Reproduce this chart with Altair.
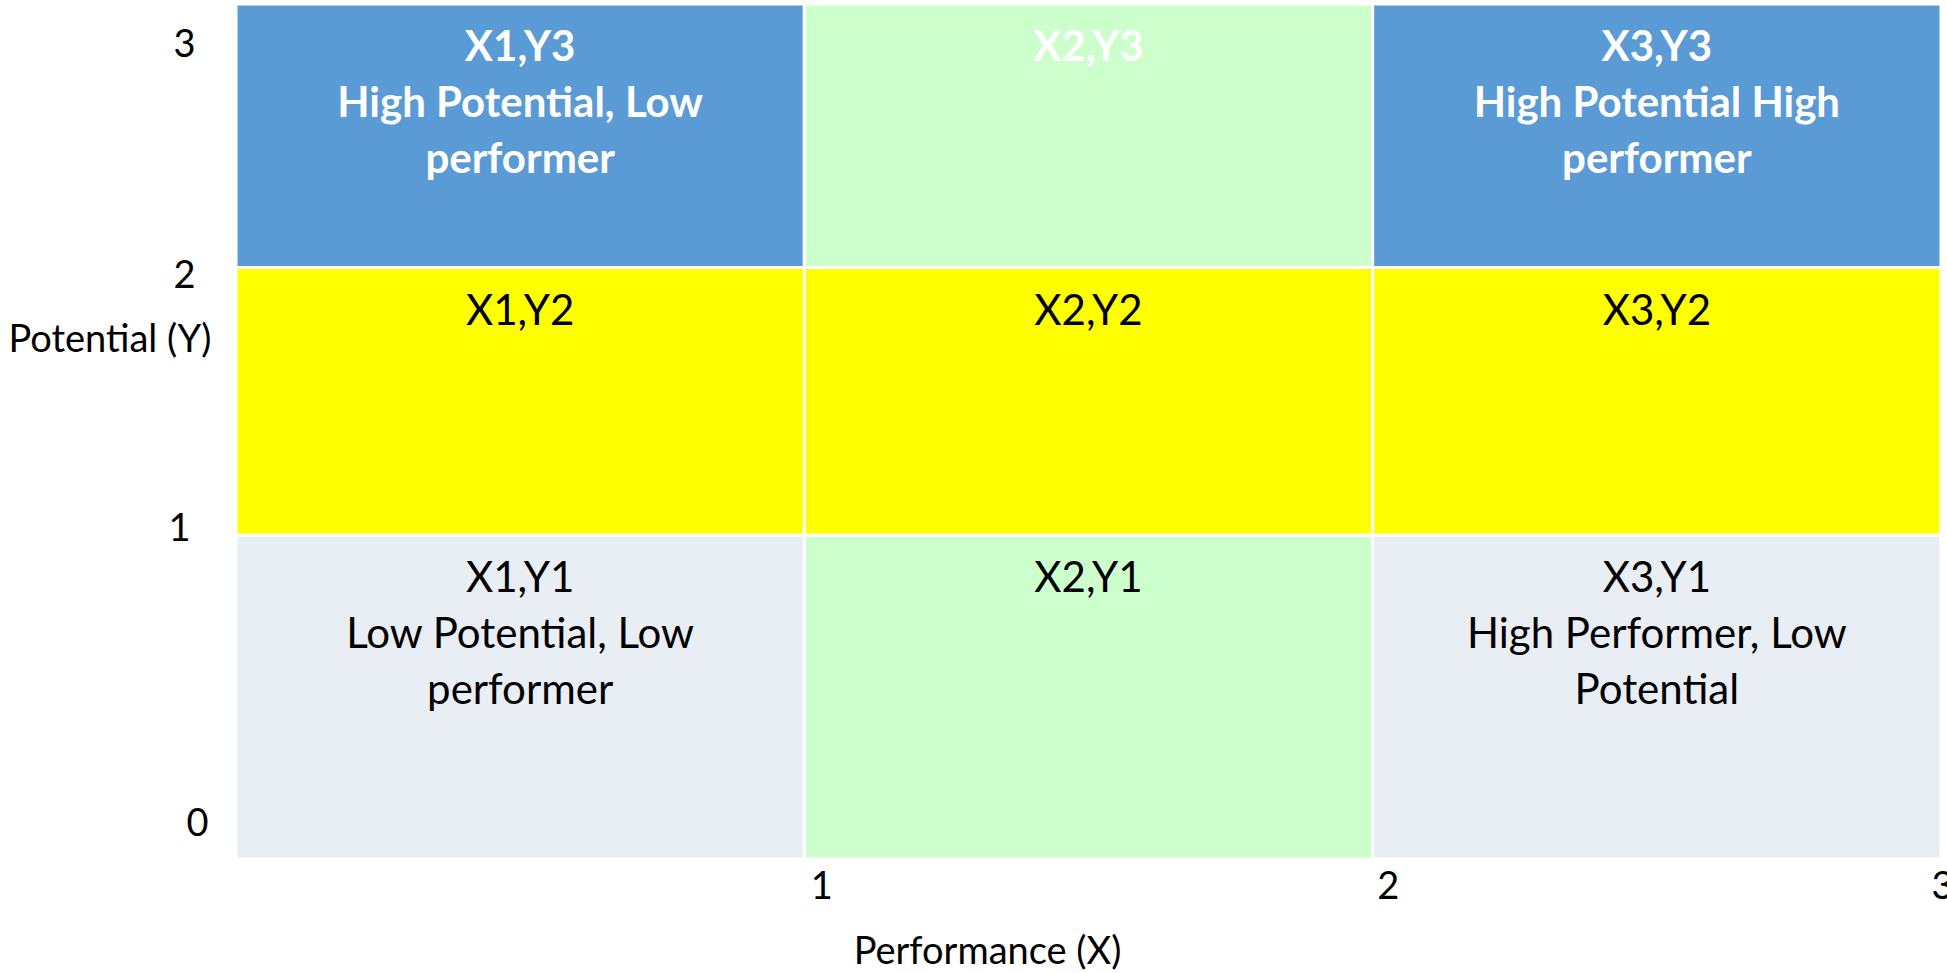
import altair as alt
import pandas as pd

# ---- data ----
cell_col = [1, 2, 3, 1, 2, 3, 1, 2, 3]          # Performance (X) column
cell_row = [1, 1, 1, 2, 2, 2, 3, 3, 3]          # Potential (Y) row
cell_zone = ["Low potential", "Mid performance", "Low potential",
             "Mid potential", "Mid potential", "Mid potential",
             "High potential", "Mid performance", "High potential"]
cell_note = ["Low Potential, Low\nperformer", "", "High Performer, Low\nPotential",
             "", "", "",
             "High Potential, Low\nperformer", "", "High Potential High\nperformer"]

x_ticks = [1, 2, 3]
y_ticks = [0, 1, 2, 3]

zone_names = ["High potential", "Mid performance", "Mid potential", "Low potential"]
zone_colors = ["#5B9BD5", "#CCFFCC", "#FFFF00", "#E9EDF4"]

# ---- table ----
df = pd.DataFrame({"col": cell_col, "row": cell_row, "zone": cell_zone, "note": cell_note})
df["x0"] = df["col"] - 1
df["x1"] = df["col"]
df["xm"] = df["col"] - 0.5
df["y0"] = df["row"] - 1
df["y1"] = df["row"]
df["label"] = [f"X{c},Y{r}" + (f"\n{n}" if n else "")
               for c, r, n in zip(df["col"], df["row"], df["note"])]

W, H = 1705, 855
FONT = "Lato"

xscale = alt.Scale(domain=[0, 3], nice=False, zero=False)
# rows are drawn with unequal heights in the original
yscale = alt.Scale(domain=[0, 1, 2, 3], range=[H, 531, 263.5, 0], nice=False, zero=False)

y_label_shift = "datum.value == 0 ? -35 : datum.value == 1 ? -6 : datum.value == 2 ? 9 : 41"
y_label_pad = "datum.value == 0 ? 28 : datum.value == 1 ? 46 : 41"
x_label_shift = "datum.value == 1 ? 6 : datum.value == 2 ? 4 : -10"

xaxis = alt.Axis(values=x_ticks, title="Performance (X)", grid=False, domain=False, ticks=False,
                 labelFont=FONT, labelFontSize=38, labelColor="black", labelAlign="left",
                 labelBaseline="middle", labelPadding=28,
                 labelOffset=alt.ExprRef(expr=x_label_shift), labelFlush=False,
                 labelOverlap=False,
                 titleFont=FONT, titleFontSize=38, titleFontWeight="normal", titleColor="black",
                 titleAlign="center", titleBaseline="middle", titleX=751, titleY=93)

yaxis = alt.Axis(values=y_ticks, title="Potential (Y)", grid=False, domain=False, ticks=False,
                 labelFont=FONT, labelFontSize=38, labelColor="black", labelAlign="right",
                 labelBaseline="middle", labelPadding=alt.ExprRef(expr=y_label_pad),
                 labelOverlap=False,
                 labelOffset=alt.ExprRef(expr=y_label_shift),
                 titleFont=FONT, titleFontSize=38, titleFontWeight="normal", titleColor="black",
                 titleAngle=0, titleAlign="right", titleBaseline="middle", titleX=-25, titleY=336)

base = alt.Chart(df)

rects = base.mark_rect(stroke="white", strokeWidth=3).encode(
    x=alt.X("x0:Q", scale=xscale, axis=xaxis, title="Performance (X)"),
    x2="x1:Q",
    y=alt.Y("y0:Q", scale=yscale, axis=yaxis, title="Potential (Y)"),
    y2="y1:Q",
    fill=alt.Fill("zone:N", scale=alt.Scale(domain=zone_names, range=zone_colors), legend=None),
)

text_kw = dict(font=FONT, fontSize=42, align="center", baseline="top", dy=24,
               lineBreak="\n", lineHeight=56)

text_top = base.transform_filter("datum.row == 3").mark_text(
    color="white", fontWeight="bold", **text_kw).encode(
    x=alt.X("xm:Q", scale=xscale, axis=xaxis, title="Performance (X)"),
    y=alt.Y("y1:Q", scale=yscale, axis=yaxis, title="Potential (Y)"),
    text="label:N",
)

text_rest = base.transform_filter("datum.row != 3").mark_text(
    color="black", fontWeight="normal", **text_kw).encode(
    x=alt.X("xm:Q", scale=xscale, axis=xaxis, title="Performance (X)"),
    y=alt.Y("y1:Q", scale=yscale, axis=yaxis, title="Potential (Y)"),
    text="label:N",
)

chart = alt.layer(rects, text_top, text_rest).properties(
    width=W, height=H,
    padding={"left": 236, "top": 4, "right": 6, "bottom": 114},
    autosize=alt.AutoSizeParams(type="none"),
    background="white",
).configure_view(stroke=None)

chart.save("out.html", embed_options={"renderer": "svg", "actions": False})
